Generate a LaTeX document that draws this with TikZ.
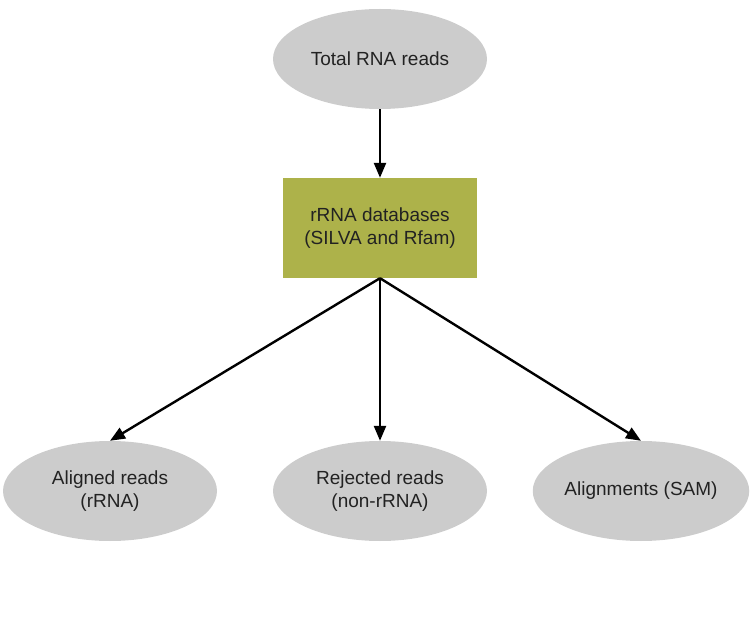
\documentclass[tikz,border=0pt]{standalone}
\usepackage{fontspec}
\setmainfont{Liberation Sans}
\usetikzlibrary{shapes.geometric,arrows.meta}
\definecolor{ellgray}{HTML}{CCCCCC}
\definecolor{olivebox}{HTML}{ADB24A}
\definecolor{txt}{HTML}{222222}
\begin{document}
\begin{tikzpicture}[x=1pt,y=-1pt,
  ellnode/.style={ellipse,fill=ellgray,minimum width=214pt,minimum height=100pt,inner sep=0pt,align=center,text=txt,font=\fontsize{19}{23}\selectfont},
  dbbox/.style={rectangle,fill=olivebox,minimum width=194pt,minimum height=100pt,inner sep=0pt,align=center,text=txt,font=\fontsize{19}{23}\selectfont},
  conn/.style={line width=2.4pt,-{Triangle[length=15pt,width=12pt]}}]
\useasboundingbox (0,0) rectangle (750,620);
\node[ellnode] (total) at (380,59) {Total RNA reads};
\node[dbbox] (db) at (380,228) {rRNA databases\\(SILVA and Rfam)};
\node[ellnode] (aligned) at (110,491) {Aligned reads\\(rRNA)};
\node[ellnode] (rejected) at (380,491) {Rejected reads\\(non-rRNA)};
\node[ellnode] (sam) at (641,491) {Alignments (SAM)};
\draw[conn] (total.south) -- (db.north);
\draw[conn] (db.south) -- (aligned.north);
\draw[conn] (db.south) -- (rejected.north);
\draw[conn] (db.south) -- (sam.north);
\end{tikzpicture}
\end{document}
